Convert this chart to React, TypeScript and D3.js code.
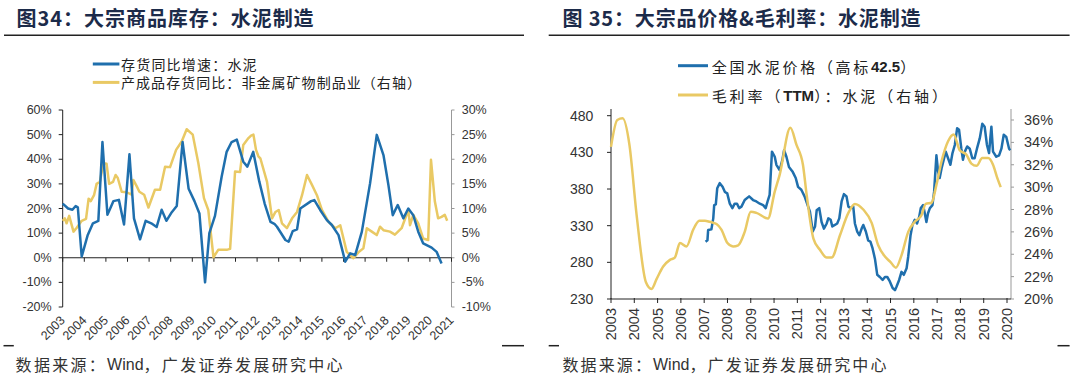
import React from "react";
import * as d3 from "d3";

// ---------- DATA ----------
// Left chart (图34)
const leftYearLabels = ["2003","2004","2005","2006","2007","2008","2009","2010","2011","2012","2013","2014","2015","2016","2017","2018","2019","2020","2021"];
const leftPctTicks = [-20, -10, 0, 10, 20, 30, 40, 50, 60];
const rightPctTicksA = [-10, -5, 0, 5, 10, 15, 20, 25, 30];

// 存货同比增速：水泥 (left axis, %)
const invYoY: [number, number][] = [
  [2003.0,22],[2003.25,20],[2003.45,19.5],[2003.6,21],[2003.7,20.5],[2003.88,0.5],[2004.15,9],[2004.4,14],[2004.65,15],
  [2004.84,47],[2005.07,17.5],[2005.2,20],[2005.35,23],[2005.6,23.5],[2005.84,13.5],[2006.09,42],[2006.3,16],[2006.58,7.5],
  [2006.84,15],[2007.1,14],[2007.35,12.5],[2007.58,19.5],[2007.8,15],[2008.05,18.5],[2008.28,21],[2008.55,47],[2008.83,28],
  [2009.1,23],[2009.33,18],[2009.59,-10],[2009.79,10],[2010.05,17],[2010.36,33],[2010.59,43],[2010.82,47],[2011.06,48],
  [2011.36,39],[2011.55,37],[2011.82,43],[2012.1,31],[2012.35,22],[2012.62,14.6],[2012.8,13.8],[2012.92,12.6],[2013.31,7.2],
  [2013.46,6.5],[2013.65,10.8],[2013.85,11.5],[2014.0,20],[2014.5,23],[2014.65,23.4],[2014.92,19.4],[2015.23,15.3],
  [2015.46,13.3],[2015.77,9.2],[2016.08,-1.6],[2016.31,1.8],[2016.54,1.1],[2016.85,10.6],[2017.23,30.2],[2017.54,49.9],
  [2017.85,41.7],[2018.08,29.5],[2018.28,17.3],[2018.51,21.4],[2018.77,16],[2019.0,20],[2019.23,17.3],[2019.46,10.6],
  [2019.69,5.8],[2020.08,4.1],[2020.31,2.4],[2020.54,-2.3]
];

// 产成品存货同比：非金属矿物制品业 (right axis, %)
const nonMetalYoY: [number, number][] = [
  [2003.0,7.5],[2003.1,8],[2003.18,7],[2003.3,8.5],[2003.5,5.3],[2003.65,6.1],[2003.88,7.5],[2004.08,7.9],[2004.2,12],
  [2004.3,11.5],[2004.45,12.7],[2004.57,15],[2004.72,15.4],[2004.88,19.2],[2005.03,19.1],[2005.15,15],[2005.33,15.4],
  [2005.45,16.8],[2005.55,16.2],[2005.73,13.4],[2005.96,13.3],[2006.19,12.8],[2006.27,15.8],[2006.43,14.5],[2006.55,13.4],
  [2006.77,12.8],[2006.97,10.2],[2007.27,13.8],[2007.51,13.8],[2007.74,18.5],[2007.97,18.4],[2008.25,21.9],[2008.51,23.6],
  [2008.74,26.1],[2009.02,25],[2009.28,19.2],[2009.54,12.1],[2009.74,9.7],[2009.98,0.1],[2010.2,1.6],[2010.59,1.6],
  [2010.75,1.8],[2010.98,17.5],[2011.21,17.4],[2011.36,22.9],[2011.6,24.3],[2011.72,24.8],[2011.83,25],[2011.95,21.9],
  [2012.06,20.6],[2012.15,20.2],[2012.46,15.4],[2012.69,8.0],[2012.85,9.3],[2013.0,9.7],[2013.15,7.0],[2013.38,6.0],
  [2013.62,8.0],[2013.85,9.3],[2014.08,12.7],[2014.31,16.8],[2014.54,14.8],[2014.77,12.7],[2015.0,9.7],[2015.31,7.3],
  [2015.62,6.0],[2015.85,6.6],[2016.15,1.2],[2016.46,-0.1],[2016.69,1.1],[2016.92,1.9],[2017.08,6.0],[2017.31,5.3],
  [2017.54,4.6],[2017.69,6.3],[2017.85,5.6],[2018.15,5.3],[2018.38,4.7],[2018.69,6.0],[2019.0,9.7],[2019.08,6.6],
  [2019.23,8.7],[2019.46,7.0],[2019.69,3.9],[2019.92,3.6],[2020.05,19.9],[2020.23,11.4],[2020.38,8.0],[2020.54,8.3],
  [2020.69,8.7],[2020.8,7.5]
];

// Right chart (图35)
const rightYearLabels = ["2003","2004","2005","2006","2007","2008","2009","2010","2011","2012","2013","2014","2015","2016","2017","2018","2019","2020"];
const priceTicks = [230, 280, 330, 380, 430, 480];
const marginTicks = [20, 22, 24, 26, 28, 30, 32, 34, 36];

// 全国水泥价格（高标42.5）
const cementPrice: [number, number][] = [
  [2007.06,308],[2007.14,310],[2007.17,324],[2007.31,325],[2007.39,340],[2007.43,358],[2007.5,359],[2007.56,381],
  [2007.67,388],[2007.79,383],[2007.89,376],[2007.99,374],[2008.1,360],[2008.21,354],[2008.31,360],[2008.41,360],
  [2008.5,354],[2008.6,356],[2008.74,365],[2008.93,370],[2009.1,365],[2009.24,363],[2009.39,360],[2009.53,358],
  [2009.64,354],[2009.74,365],[2009.81,372],[2009.91,431],[2010.03,424],[2010.1,413],[2010.24,406],[2010.36,420],
  [2010.43,433],[2010.53,424],[2010.64,410],[2010.79,404],[2010.93,395],[2011.03,383],[2011.17,379],[2011.31,370],
  [2011.54,349],[2011.66,322],[2011.76,329],[2011.83,351],[2011.94,354],[2012.04,335],[2012.14,326],[2012.26,333],
  [2012.33,340],[2012.43,338],[2012.5,329],[2012.61,331],[2012.71,333],[2012.8,340],[2012.9,363],[2013.0,373],
  [2013.11,370],[2013.19,356],[2013.29,354],[2013.4,356],[2013.47,333],[2013.57,322],[2013.66,317],[2013.76,326],
  [2013.83,331],[2013.94,322],[2014.04,310],[2014.14,308],[2014.23,299],[2014.33,285],[2014.43,263],[2014.54,260],
  [2014.66,256],[2014.76,260],[2014.86,260],[2014.97,254],[2015.09,245],[2015.19,242],[2015.26,247],[2015.37,256],
  [2015.47,267],[2015.57,263],[2015.69,272],[2015.76,288],[2015.86,317],[2015.94,331],[2016.04,338],[2016.14,333],
  [2016.23,342],[2016.3,354],[2016.4,358],[2016.47,347],[2016.54,335],[2016.61,347],[2016.69,354],[2016.8,358],
  [2016.87,376],[2016.97,426],[2017.04,404],[2017.11,395],[2017.19,408],[2017.26,417],[2017.37,431],[2017.47,422],
  [2017.57,413],[2017.66,429],[2017.76,440],[2017.86,463],[2017.94,461],[2018.04,435],[2018.11,420],[2018.19,431],
  [2018.29,438],[2018.4,435],[2018.51,422],[2018.61,422],[2018.71,435],[2018.83,449],[2018.94,469],[2019.04,465],
  [2019.14,440],[2019.23,429],[2019.29,451],[2019.33,465],[2019.4,431],[2019.54,424],[2019.66,426],[2019.76,435],
  [2019.86,454],[2019.97,451],[2020.09,435],[2020.14,433]
];

// 毛利率（TTM）：水泥 (right axis, %)
const grossMargin: [number, number][] = [
  [2003.0,33.6],[2003.27,36.0],[2003.5,36.15],[2003.79,33.8],[2004.1,27.5],[2004.5,21.5],[2004.74,20.9],[2004.96,21.8],
  [2005.24,22.9],[2005.53,23.5],[2005.74,23.7],[2005.96,25.0],[2006.24,24.7],[2006.53,26.2],[2006.79,27.0],[2007.03,27.0],
  [2007.24,26.9],[2007.53,26.7],[2007.74,26.2],[2008.0,25.0],[2008.24,24.7],[2008.46,24.8],[2008.74,26.0],[2009.0,27.8],
  [2009.24,27.7],[2009.74,27.2],[2010.03,29.6],[2010.24,31.1],[2010.7,35.3],[2010.96,33.8],[2011.24,32.0],[2011.4,29.3],
  [2011.69,25.4],[2011.97,24.4],[2012.26,23.7],[2012.47,23.7],[2012.83,25.7],[2013.19,27.7],[2013.47,28.5],[2013.83,28.0],
  [2014.19,26.8],[2014.47,24.8],[2014.76,23.8],[2015.0,23.3],[2015.23,22.8],[2015.47,23.9],[2015.76,26.0],[2016.04,26.9],
  [2016.33,27.5],[2016.51,28.5],[2016.76,28.6],[2016.97,30.2],[2017.19,32.3],[2017.47,34.1],[2017.71,34.7],[2017.97,33.3],
  [2018.26,32.9],[2018.47,32.1],[2018.69,31.9],[2018.94,32.6],[2019.19,32.6],[2019.4,32.0],[2019.57,30.9],[2019.73,30.0]
];

// ---------- STYLE ----------
const BLUE = "#1f6fad";
const YELLOW = "#e9c964";
const TITLE = "#1c2b4a";
const NUM = "Liberation Sans, Arial, sans-serif";
const CJK = "'Noto Sans CJK SC', 'Noto Sans', sans-serif";

export default function App() {
  // Left chart scales
  const xL = d3.scaleLinear().domain([2003, 2021]).range([62.7, 451.5]);
  const yL = d3.scaleLinear().domain([-20, 60]).range([307, 110]);
  const yLR = d3.scaleLinear().domain([-10, 30]).range([307, 110]);

  // Right chart scales
  const xR = d3.scaleLinear().domain([2003, 2020]).range([611, 1007]);
  const yP = d3.scaleLinear().domain([230, 480]).range([299, 115.7]);
  const yM = d3.scaleLinear().domain([20, 36]).range([299, 120]);

  const lineInv = d3.line<[number, number]>().x(d => xL(d[0])).y(d => yL(d[1]));
  const lineNM = d3.line<[number, number]>().x(d => xL(d[0])).y(d => yLR(d[1]));
  const linePrice = d3.line<[number, number]>().x(d => xR(d[0])).y(d => yP(d[1]));
  const lineMargin = d3.line<[number, number]>().x(d => xR(d[0])).y(d => yM(d[1])).curve(d3.curveMonotoneX);

  const y0 = yL(0);

  return (
    <svg width={1080} height={377} style={{ position: "absolute", left: 0, top: 0, background: "#fff" }}>
      <rect x={0} y={0} width={1080} height={377} fill="#fff" />

      {/* ===== Titles ===== */}
      <text x={16.6} y={26} fontFamily={CJK} fontWeight={700} fontSize={20} fill={TITLE}
        textLength={297} lengthAdjust="spacing">图34：大宗商品库存：水泥制造</text>
      <line x1={4} x2={524} y1={35.3} y2={35.3} stroke="#222" strokeWidth={1.5} />
      <text x={562.5} y={26} fontFamily={CJK} fontWeight={700} fontSize={20} fill={TITLE}
        textLength={358} lengthAdjust="spacing">图 35：大宗品价格&amp;毛利率：水泥制造</text>
      <line x1={548.7} x2={1069.6} y1={35.3} y2={35.3} stroke="#222" strokeWidth={1.5} />

      {/* ===== Left legend ===== */}
      <line x1={92.8} x2={119.4} y1={64} y2={64} stroke={BLUE} strokeWidth={3} />
      <text x={121} y={64} dominantBaseline="central" fontFamily={CJK} fontSize={14} fill="#222" letterSpacing={1.2}>存货同比增速：水泥</text>
      <line x1={92.8} x2={119.4} y1={82.4} y2={82.4} stroke={YELLOW} strokeWidth={3} />
      <text x={121} y={82.4} dominantBaseline="central" fontFamily={CJK} fontSize={14} fill="#222" letterSpacing={1.05}>产成品存货同比：非金属矿物制品业（右轴）</text>

      {/* ===== Right legend ===== */}
      <line x1={678} x2={708} y1={65.7} y2={65.7} stroke={BLUE} strokeWidth={3} />
      <text x={711.7} y={65.7} dominantBaseline="central" fontFamily={CJK} fontSize={15} fill="#222">
        <tspan letterSpacing={2.7}>全国水泥价格（高标</tspan><tspan fontFamily={NUM} fontWeight={700} letterSpacing={0}>42.5</tspan><tspan letterSpacing={2.7}>）</tspan>
      </text>
      <line x1={678} x2={708} y1={95} y2={95} stroke={YELLOW} strokeWidth={3} />
      <text x={711.7} y={95} dominantBaseline="central" fontFamily={CJK} fontSize={15} fill="#222">
        <tspan letterSpacing={2.9}>毛利率（</tspan><tspan fontFamily={NUM} fontWeight={700} letterSpacing={0}>TTM</tspan><tspan letterSpacing={2.9}>）：水泥（右轴）</tspan>
      </text>

      {/* ===== Left chart axes ===== */}
      <line x1={xL(2003)} x2={xL(2003)} y1={yL(60)} y2={yL(-20)} stroke="#222" strokeWidth={1} />
      {leftPctTicks.map(t => (
        <g key={"lp" + t}>
          <line x1={xL(2003) - 4} x2={xL(2003)} y1={yL(t)} y2={yL(t)} stroke="#222" />
          <text x={51.7} y={yL(t)} textAnchor="end" dominantBaseline="central" fontFamily={NUM} fontSize={12.5} fill="#333">{t}%</text>
        </g>
      ))}
      <line x1={xL(2021)} x2={xL(2021)} y1={yLR(30)} y2={yLR(-10)} stroke="#999" strokeWidth={1} />
      {rightPctTicksA.map(t => (
        <g key={"rp" + t}>
          <line x1={xL(2021)} x2={xL(2021) + 3} y1={yLR(t)} y2={yLR(t)} stroke="#999" />
          <text x={461.7} y={yLR(t)} dominantBaseline="central" fontFamily={NUM} fontSize={12.5} fill="#333">{t}%</text>
        </g>
      ))}
      <line x1={xL(2003)} x2={xL(2021)} y1={y0} y2={y0} stroke="#222" strokeWidth={1} />
      {leftYearLabels.map(lab => {
        const x = xL(+lab);
        return (
          <g key={"ly" + lab}>
            <line x1={x} x2={x} y1={y0} y2={y0 + 4} stroke="#222" />
            <text transform={`translate(${x + 3},${yL(-20) + 14}) rotate(-45)`} textAnchor="end"
              fontFamily={NUM} fontSize={12.5} fill="#333">{lab}</text>
          </g>
        );
      })}

      {/* Left chart series */}
      <path d={lineNM(nonMetalYoY) || ""} fill="none" stroke={YELLOW} strokeWidth={2.5} strokeLinejoin="round" />
      <path d={lineInv(invYoY) || ""} fill="none" stroke={BLUE} strokeWidth={2.5} strokeLinejoin="round" />

      {/* ===== Right chart axes ===== */}
      <line x1={611} x2={611} y1={109} y2={yP(230)} stroke="#222" strokeWidth={1} />
      {priceTicks.map(t => (
        <g key={"pt" + t}>
          <line x1={607} x2={611} y1={yP(t)} y2={yP(t)} stroke="#222" />
          <text x={593.3} y={yP(t)} textAnchor="end" dominantBaseline="central" fontFamily={NUM} fontSize={14} fill="#333">{t}</text>
        </g>
      ))}
      <line x1={1011} x2={1011} y1={109} y2={yM(20)} stroke="#999" strokeWidth={1} />
      {marginTicks.map(t => (
        <g key={"mt" + t}>
          <line x1={1011} x2={1014} y1={yM(t)} y2={yM(t)} stroke="#999" />
          <text x={1024} y={yM(t)} dominantBaseline="central" fontFamily={NUM} fontSize={14.5} fill="#333">{t}%</text>
        </g>
      ))}
      <line x1={611} x2={1011} y1={yP(230)} y2={yP(230)} stroke="#222" strokeWidth={1} />
      {rightYearLabels.map(lab => {
        const x = xR(+lab);
        return (
          <g key={"ry" + lab}>
            <line x1={x} x2={x} y1={yP(230) - 1} y2={yP(230) + 4} stroke="#222" />
            <text transform={`translate(${x},308) rotate(-90)`} textAnchor="end" dominantBaseline="central"
              fontFamily={NUM} fontSize={14.5} fill="#333">{lab}</text>
          </g>
        );
      })}

      {/* Right chart series */}
      <path d={linePrice(cementPrice) || ""} fill="none" stroke={BLUE} strokeWidth={2.5} strokeLinejoin="round" />
      <path d={lineMargin(grossMargin) || ""} fill="none" stroke={YELLOW} strokeWidth={2.5} strokeLinejoin="round" />

      {/* ===== Bottom rules & source ===== */}
      <line x1={3.5} x2={13.8} y1={345.7} y2={345.7} stroke="#222" strokeWidth={1.5} />
      <line x1={502} x2={524} y1={345.7} y2={345.7} stroke="#222" strokeWidth={1.5} />
      <line x1={548.7} x2={559} y1={345.7} y2={345.7} stroke="#222" strokeWidth={1.5} />
      <line x1={1057.5} x2={1069.6} y1={345.7} y2={345.7} stroke="#222" strokeWidth={1.5} />
      <text x={15.6} y={364} dominantBaseline="central" fontFamily={CJK} fontSize={16} fill="#333">
        <tspan letterSpacing={2.3}>数据来源：</tspan><tspan fontFamily={NUM} letterSpacing={0}>Wind</tspan><tspan letterSpacing={2.3}>，广发证券发展研究中心</tspan>
      </text>
      <text x={562.5} y={364} dominantBaseline="central" fontFamily={CJK} fontSize={16} fill="#333">
        <tspan letterSpacing={2.1}>数据来源：</tspan><tspan fontFamily={NUM} letterSpacing={0}>Wind</tspan><tspan letterSpacing={2.1}>，广发证券发展研究中心</tspan>
      </text>
    </svg>
  );
}
